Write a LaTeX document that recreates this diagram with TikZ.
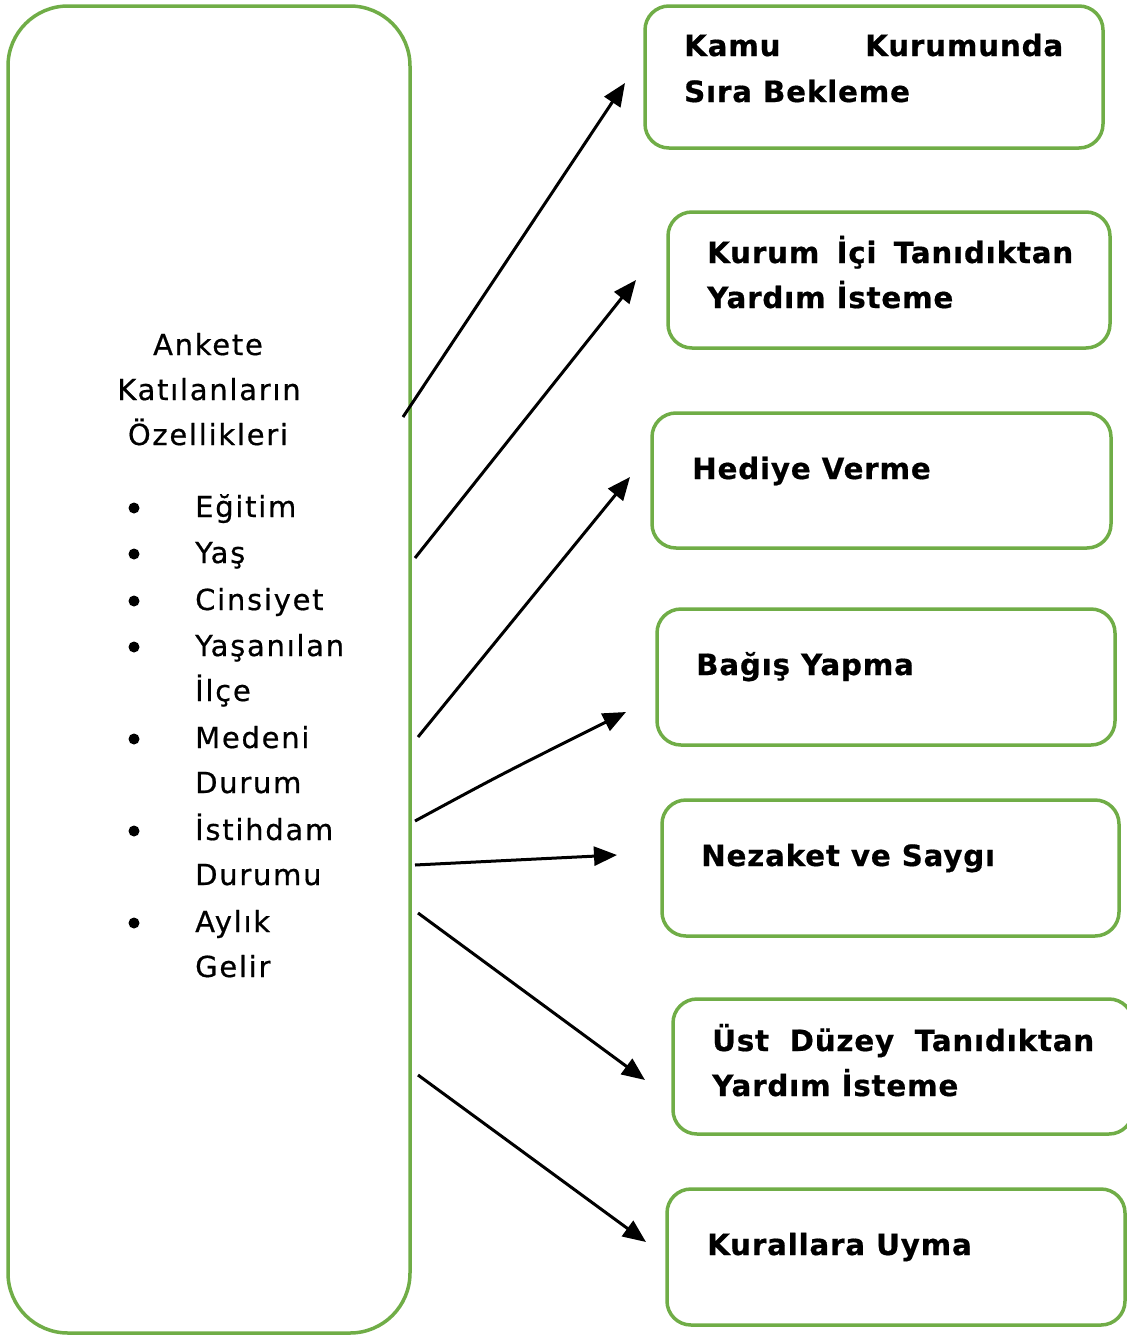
\documentclass[tikz,border=0pt]{standalone}
\usepackage{fontspec}
\setmainfont{DejaVu Sans}
\usetikzlibrary{arrows.meta}
\definecolor{boxgreen}{RGB}{112,173,71}
\newfontfamily\lefttext[LetterSpace=6,FakeBold=0.6]{DejaVu Sans}
\newfontfamily\boxtext[LetterSpace=2.8,FakeBold=0.6]{DejaVu Sans Bold}
\tikzset{
  bigbox/.style={draw=boxgreen,line width=3.5pt,rounded corners=60pt,inner sep=0pt},
  smallbox/.style={draw=boxgreen,line width=3.5pt,rounded corners=24pt,inner sep=0pt},
  btxt/.style={anchor=base west,inner sep=0pt,font=\boxtext\fontsize{29.3}{34}\selectfont},
  ltxt/.style={anchor=base west,inner sep=0pt,font=\lefttext\fontsize{29}{34}\selectfont},
  ctxt/.style={anchor=base,inner sep=0pt,font=\lefttext\fontsize{29}{34}\selectfont},
  bul/.style={circle,fill=black,inner sep=0pt,minimum size=11pt},
  arr/.style={line width=3pt,-{Triangle[length=23pt,width=19pt]}}
}
\begin{document}
\begin{tikzpicture}[x=1pt,y=-1pt]
\useasboundingbox (0,0) rectangle (1127,1336);
% big left box
\node[bigbox,minimum width=402pt,minimum height=1327pt] (L) at (209,669.5) {};
% right boxes
\node[smallbox,minimum width=458pt,minimum height=142pt] (b1) at (874,77) {};
\node[smallbox,minimum width=442pt,minimum height=136pt] (b2) at (889,280) {};
\node[smallbox,minimum width=459pt,minimum height=135pt] (b3) at (881.5,480.5) {};
\node[smallbox,minimum width=458pt,minimum height=136pt] (b4) at (886,677) {};
\node[smallbox,minimum width=457pt,minimum height=136pt] (b5) at (890.5,868) {};
\node[smallbox,minimum width=460pt,minimum height=135pt] (b6) at (903,1066.5) {};
\node[smallbox,minimum width=458pt,minimum height=136pt] (b7) at (896,1257) {};
% box texts
\node[btxt] (t1a) at (684,56) {\makebox[379pt][s]{Kamu\hfill Kurumunda}};
\node[btxt] (t1b) at (684,102) {Sıra Bekleme};
\node[btxt] (t2a) at (707,263) {\makebox[366pt][s]{Kurum\hfill İçi\hfill Tanıdıktan}};
\node[btxt] (t2b) at (707,308) {Yardım İsteme};
\node[btxt] (t3) at (692,479) {Hediye Verme};
\node[btxt] (t4) at (696,675) {Bağış Yapma};
\node[btxt] (t5) at (701,866) {Nezaket ve Saygı};
\node[btxt] (t6a) at (712,1051) {\makebox[382pt][s]{Üst\hfill Düzey\hfill Tanıdıktan}};
\node[btxt] (t6b) at (712,1096) {Yardım İsteme};
\node[btxt] (t7) at (707,1255) {Kurallara Uyma};
% left texts
\node[ctxt] (h1) at (208,355) {Ankete};
\node[ctxt] (h2) at (209,400) {Katılanların};
\node[ctxt] (h3) at (208,445) {Özellikleri};
\node[ltxt] (i1) at (195,517) {Eğitim};
\node[ltxt] (i2) at (195,563) {Yaş};
\node[ltxt] (i3) at (195,610) {Cinsiyet};
\node[ltxt] (i4a) at (195,656) {Yaşanılan};
\node[ltxt] (i4b) at (195,701) {İlçe};
\node[ltxt] (i5a) at (195,748) {Medeni};
\node[ltxt] (i5b) at (195,793) {Durum};
\node[ltxt] (i6a) at (195,840) {İstihdam};
\node[ltxt] (i6b) at (195,885) {Durumu};
\node[ltxt] (i7a) at (195,932) {Aylık};
\node[ltxt] (i7b) at (195,977) {Gelir};
\foreach \yy/\nm in {508/p1,554/p2,601/p3,647/p4,739/p5,831/p6,923/p7}{
  \node[bul] (\nm) at (134,\yy) {};
}
% arrow end points
\coordinate (s1) at (403,417); \coordinate (e1) at (625,83);
\coordinate (s2) at (415,558); \coordinate (e2) at (636,280);
\coordinate (s3) at (418,737); \coordinate (e3) at (630,477);
\coordinate (s4) at (415,821); \coordinate (e4) at (626,712);
\coordinate (s5) at (415,865); \coordinate (e5) at (617,855);
\coordinate (s6) at (418,913); \coordinate (e6) at (645,1080);
\coordinate (s7) at (418,1075); \coordinate (e7) at (646,1242);
\draw[arr] (s1) -- (e1);
\draw[arr] (s2) -- (e2);
\draw[arr] (s3) -- (e3);
\draw[arr] (s4) .. controls (500,775) .. (e4);
\draw[arr] (s5) -- (e5);
\draw[arr] (s6) -- (e6);
\draw[arr] (s7) -- (e7);
\end{tikzpicture}
\end{document}
